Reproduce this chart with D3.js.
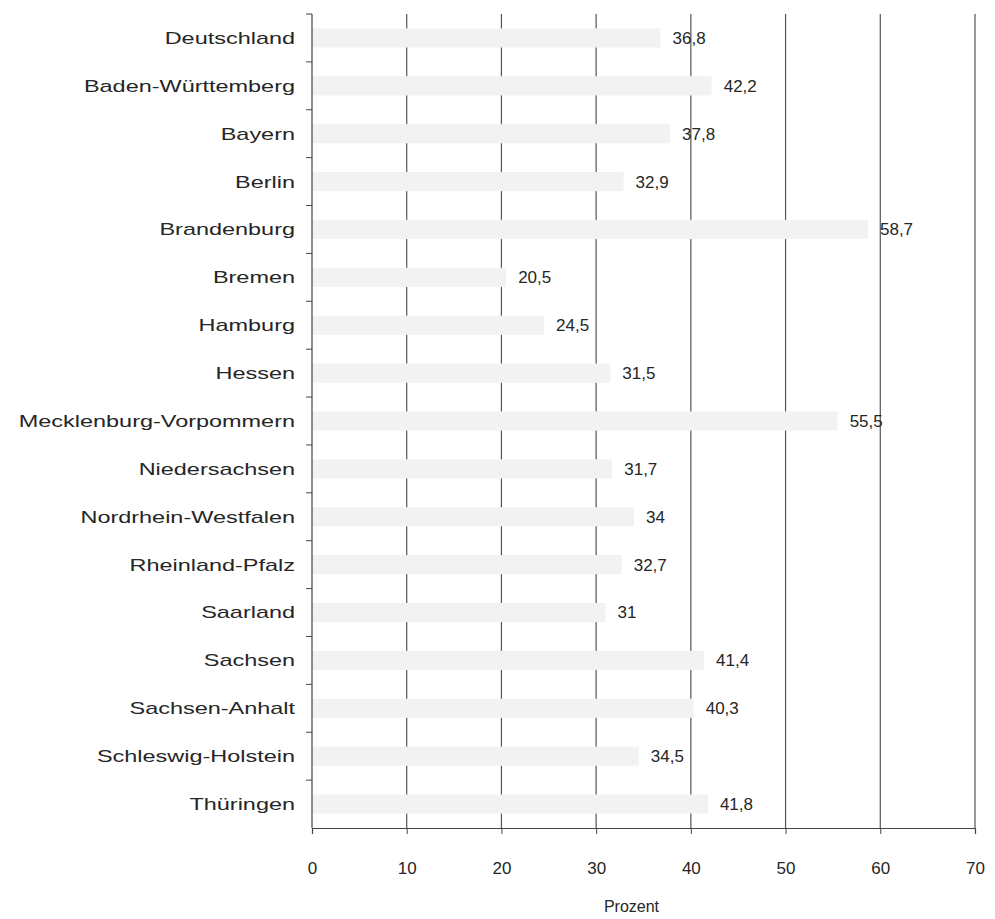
<!DOCTYPE html>
<html>
<head>
<meta charset="utf-8">
<script src="https://cdn.jsdelivr.net/npm/d3@7"></script>
<style>
  body { margin: 0; background: #fff; }
  text { font-family: "Liberation Sans", Arial, sans-serif; fill: #262626; }
</style>
</head>
<body>
<div id="chart"></div>
<script>
// Bundeslaender and their percentages
const laender = ["Deutschland", "Baden-Württemberg", "Bayern", "Berlin", "Brandenburg", "Bremen",
  "Hamburg", "Hessen", "Mecklenburg-Vorpommern", "Niedersachsen", "Nordrhein-Westfalen",
  "Rheinland-Pfalz", "Saarland", "Sachsen", "Sachsen-Anhalt", "Schleswig-Holstein", "Thüringen"];
const prozent = [36.8, 42.2, 37.8, 32.9, 58.7, 20.5, 24.5, 31.5, 55.5, 31.7, 34, 32.7, 31, 41.4, 40.3, 34.5, 41.8];
const xTicks = [0, 10, 20, 30, 40, 50, 60, 70];
const xTitle = "Prozent";

const data = laender.map((d, i) => ({name: d, value: prozent[i]}));

const width = 995, height = 919;
const margin = {top: 14, right: 20, bottom: 91, left: 312};
const innerW = 975 - margin.left;
const innerH = height - margin.top - margin.bottom;

const svg = d3.select("#chart").append("svg")
  .attr("width", width)
  .attr("height", height);

const chart = svg.append("g")
  .attr("transform", `translate(${margin.left},${margin.top})`);

const x = d3.scaleLinear().domain([0, 70]).range([0, innerW]);
const y = d3.scaleBand().domain(laender).range([0, innerH]).paddingInner(0.6).paddingOuter(0.3);
const step = y.step();

// vertical grid lines
chart.selectAll(".grid")
  .data(xTicks.slice(1))
  .join("line")
  .attr("class", "grid")
  .attr("x1", d => x(d)).attr("x2", d => x(d))
  .attr("y1", 0).attr("y2", innerH)
  .attr("stroke", "#555")
  .attr("stroke-width", 1.2);

// bars (very light, cover the grid)
chart.selectAll(".bar")
  .data(data)
  .join("rect")
  .attr("class", "bar")
  .attr("x", 0)
  .attr("y", d => y(d.name))
  .attr("width", d => x(d.value))
  .attr("height", y.bandwidth())
  .attr("fill", "#f2f2f2");

// value labels
chart.selectAll(".val")
  .data(data)
  .join("text")
  .attr("class", "val")
  .attr("x", d => x(d.value) + 12)
  .attr("y", d => y(d.name) + y.bandwidth() / 2)
  .attr("dy", "0.35em")
  .attr("font-size", 17)
  .text(d => String(d.value).replace(".", ","));

// y axis: line + ticks between categories
chart.append("line")
  .attr("x1", 0).attr("x2", 0).attr("y1", 0).attr("y2", innerH)
  .attr("stroke", "#444").attr("stroke-width", 1.2);

chart.selectAll(".ytick")
  .data(d3.range(laender.length))
  .join("line")
  .attr("class", "ytick")
  .attr("x1", -6).attr("x2", 0)
  .attr("y1", i => i * step).attr("y2", i => i * step)
  .attr("stroke", "#444");

// category labels look horizontally stretched in the scan
chart.selectAll(".ylab")
  .data(laender)
  .join("text")
  .attr("class", "ylab")
  .attr("transform", d => `translate(-17,${y(d) + y.bandwidth() / 2}) scale(1.38,1)`)
  .attr("dy", "0.35em")
  .attr("text-anchor", "end")
  .attr("font-size", 17)
  .text(d => d);

// x axis
const xAxis = d3.axisBottom(x).tickValues(xTicks).tickSize(6).tickPadding(28).tickFormat(d3.format("d"));
const xg = chart.append("g")
  .attr("transform", `translate(0,${innerH})`)
  .call(xAxis);
xg.select(".domain").attr("stroke", "#444").attr("stroke-width", 1.2);
xg.selectAll(".tick line").attr("stroke", "#444");
xg.selectAll(".tick text")
  .attr("font-size", 17)
  .attr("font-family", "Liberation Sans, Arial, sans-serif")
  .attr("fill", "#262626");

svg.append("text")
  .attr("x", margin.left + innerW / 2 - 12)
  .attr("y", 912)
  .attr("text-anchor", "middle")
  .attr("font-size", 16)
  .text(xTitle);
</script>
</body>
</html>
